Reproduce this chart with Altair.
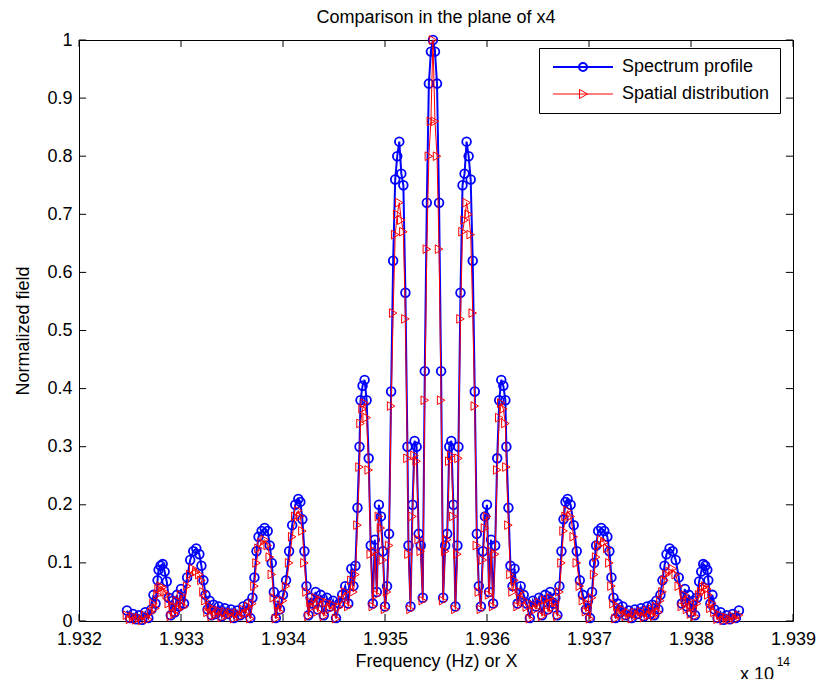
import altair as alt
import pandas as pd

series_names = ["Spectrum profile", "Spatial distribution"]
series_colors = ["#0000FF", "#FF0000"]

# frequencies in GHz (left half incl. centre, right half)
freq_left_ghz = [193247, 193250, 193253, 193256, 193259, 193262, 193265, 193268, 193271, 193273,
                 193275, 193277, 193278, 193280, 193282, 193284, 193286, 193288, 193290, 193292,
                 193294, 193296, 193298, 193300, 193303, 193306, 193309, 193312, 193315, 193318,
                 193320, 193322, 193324, 193326, 193328, 193330, 193332, 193334, 193337, 193340,
                 193343, 193346, 193349, 193352, 193355, 193358, 193361, 193363, 193366, 193368,
                 193370, 193372, 193374, 193376, 193379, 193382, 193385, 193387, 193389, 193391,
                 193393, 193395, 193397, 193400, 193403, 193406, 193409, 193412, 193415, 193417,
                 193419, 193421, 193423, 193425, 193427, 193429, 193432, 193434, 193437, 193440,
                 193443, 193446, 193449, 193452, 193455, 193458, 193461, 193464, 193467, 193469,
                 193471, 193473, 193475, 193476, 193478, 193480, 193482, 193484, 193486, 193488,
                 193490, 193492, 193494, 193496, 193498, 193500, 193502, 193504, 193506, 193508,
                 193510, 193512, 193514, 193516, 193518, 193520, 193522, 193523, 193525, 193527,
                 193529, 193531, 193533, 193535, 193537, 193539, 193541, 193543, 193545, 193547]
freq_right_ghz = [193549, 193551, 193553, 193555, 193557, 193559, 193561, 193563, 193565, 193567,
                  193569, 193571, 193572, 193574, 193576, 193578, 193580, 193582, 193584, 193586,
                  193588, 193590, 193592, 193594, 193596, 193598, 193600, 193602, 193604, 193606,
                  193608, 193610, 193612, 193614, 193616, 193618, 193619, 193621, 193623, 193625,
                  193627, 193630, 193633, 193636, 193639, 193642, 193645, 193648, 193651, 193654,
                  193657, 193660, 193662, 193665, 193667, 193669, 193671, 193673, 193675, 193677,
                  193679, 193682, 193685, 193688, 193691, 193694, 193697, 193699, 193701, 193703,
                  193705, 193707, 193709, 193712, 193715, 193718, 193720, 193722, 193724, 193726,
                  193728, 193731, 193733, 193736, 193739, 193742, 193745, 193748, 193751, 193754,
                  193757, 193760, 193762, 193764, 193766, 193768, 193770, 193772, 193774, 193776,
                  193779, 193782, 193785, 193788, 193791, 193794, 193796, 193798, 193800, 193802,
                  193804, 193806, 193808, 193810, 193812, 193814, 193816, 193817, 193819, 193821,
                  193823, 193826, 193829, 193832, 193835, 193838, 193841, 193844, 193847]

spectrum_left = [0.018, 0.005, 0.012, 0.003, 0.010, 0.002, 0.015, 0.005, 0.020, 0.045,
                 0.030, 0.070, 0.088, 0.095, 0.098, 0.085, 0.068, 0.040, 0.010, 0.035,
                 0.015, 0.045, 0.025, 0.055, 0.030, 0.075, 0.105, 0.120, 0.125, 0.115,
                 0.095, 0.070, 0.045, 0.020, 0.035, 0.010, 0.028, 0.012, 0.025, 0.008,
                 0.022, 0.012, 0.020, 0.005, 0.018, 0.010, 0.025, 0.015, 0.030, 0.005,
                 0.040, 0.075, 0.120, 0.145, 0.155, 0.160, 0.155, 0.130, 0.100, 0.050,
                 0.005, 0.035, 0.020, 0.045, 0.070, 0.120, 0.165, 0.200, 0.210, 0.205,
                 0.175, 0.120, 0.060, 0.010, 0.040, 0.030, 0.050, 0.020, 0.045, 0.010,
                 0.040, 0.025, 0.035, 0.005, 0.030, 0.045, 0.060, 0.030, 0.090, 0.060,
                 0.095, 0.195, 0.300, 0.380, 0.405, 0.415, 0.380, 0.280, 0.130, 0.030,
                 0.140, 0.050, 0.200, 0.180, 0.120, 0.025, 0.060, 0.150, 0.395, 0.620,
                 0.760, 0.800, 0.825, 0.770, 0.750, 0.565, 0.300, 0.130, 0.025, 0.200,
                 0.310, 0.300, 0.150, 0.130, 0.040, 0.430, 0.720, 0.925, 0.980, 1.000]
spectrum_right = [0.980, 0.925, 0.720, 0.430, 0.040, 0.130, 0.150, 0.300, 0.310, 0.200,
                  0.025, 0.130, 0.300, 0.565, 0.750, 0.770, 0.825, 0.800, 0.760, 0.620,
                  0.395, 0.150, 0.060, 0.025, 0.120, 0.180, 0.200, 0.050, 0.140, 0.030,
                  0.130, 0.280, 0.380, 0.415, 0.405, 0.380, 0.300, 0.195, 0.095, 0.060,
                  0.090, 0.030, 0.060, 0.045, 0.030, 0.005, 0.035, 0.025, 0.040, 0.010,
                  0.045, 0.020, 0.050, 0.030, 0.040, 0.010, 0.060, 0.120, 0.175, 0.205,
                  0.210, 0.200, 0.165, 0.120, 0.070, 0.045, 0.020, 0.035, 0.005, 0.050,
                  0.100, 0.130, 0.155, 0.160, 0.155, 0.145, 0.120, 0.075, 0.040, 0.005,
                  0.030, 0.015, 0.025, 0.010, 0.018, 0.005, 0.020, 0.012, 0.022, 0.008,
                  0.025, 0.012, 0.028, 0.010, 0.035, 0.020, 0.045, 0.070, 0.095, 0.115,
                  0.125, 0.120, 0.105, 0.075, 0.030, 0.055, 0.025, 0.045, 0.015, 0.035,
                  0.010, 0.040, 0.068, 0.085, 0.098, 0.095, 0.088, 0.070, 0.030, 0.045,
                  0.020, 0.005, 0.015, 0.002, 0.010, 0.003, 0.012, 0.005, 0.018]

spatial_left = [0.010, 0.003, 0.008, 0.002, 0.006, 0.001, 0.010, 0.003, 0.015, 0.030,
                0.022, 0.045, 0.055, 0.060, 0.058, 0.050, 0.045, 0.030, 0.008, 0.025,
                0.012, 0.035, 0.020, 0.045, 0.025, 0.060, 0.080, 0.090, 0.085, 0.080,
                0.070, 0.050, 0.035, 0.015, 0.025, 0.008, 0.020, 0.010, 0.018, 0.006,
                0.016, 0.010, 0.015, 0.004, 0.014, 0.008, 0.020, 0.012, 0.025, 0.004,
                0.030, 0.060, 0.100, 0.125, 0.135, 0.140, 0.130, 0.110, 0.080, 0.040,
                0.004, 0.028, 0.016, 0.035, 0.060, 0.100, 0.145, 0.180, 0.190, 0.180,
                0.155, 0.100, 0.050, 0.008, 0.032, 0.024, 0.040, 0.016, 0.036, 0.008,
                0.032, 0.020, 0.028, 0.004, 0.024, 0.036, 0.050, 0.025, 0.070, 0.050,
                0.080, 0.165, 0.265, 0.340, 0.365, 0.375, 0.350, 0.260, 0.115, 0.025,
                0.120, 0.045, 0.180, 0.160, 0.105, 0.020, 0.050, 0.130, 0.370, 0.530,
                0.665, 0.700, 0.720, 0.690, 0.670, 0.520, 0.280, 0.115, 0.020, 0.180,
                0.285, 0.275, 0.140, 0.120, 0.035, 0.380, 0.640, 0.800, 0.860, 1.000]
spatial_right = [0.860, 0.800, 0.640, 0.380, 0.035, 0.120, 0.140, 0.275, 0.285, 0.180,
                 0.020, 0.115, 0.280, 0.520, 0.670, 0.690, 0.720, 0.700, 0.665, 0.530,
                 0.370, 0.130, 0.050, 0.020, 0.105, 0.160, 0.180, 0.045, 0.120, 0.025,
                 0.115, 0.260, 0.350, 0.375, 0.365, 0.340, 0.265, 0.165, 0.080, 0.050,
                 0.070, 0.025, 0.050, 0.036, 0.024, 0.004, 0.028, 0.020, 0.032, 0.008,
                 0.036, 0.016, 0.040, 0.024, 0.032, 0.008, 0.050, 0.100, 0.155, 0.180,
                 0.190, 0.180, 0.145, 0.100, 0.060, 0.035, 0.016, 0.028, 0.004, 0.040,
                 0.080, 0.110, 0.130, 0.140, 0.135, 0.125, 0.100, 0.060, 0.030, 0.004,
                 0.025, 0.012, 0.020, 0.008, 0.014, 0.004, 0.015, 0.010, 0.016, 0.006,
                 0.018, 0.010, 0.020, 0.008, 0.025, 0.015, 0.035, 0.050, 0.070, 0.080,
                 0.085, 0.090, 0.080, 0.060, 0.025, 0.045, 0.020, 0.035, 0.012, 0.025,
                 0.008, 0.030, 0.045, 0.050, 0.058, 0.060, 0.055, 0.045, 0.022, 0.030,
                 0.015, 0.003, 0.010, 0.001, 0.006, 0.002, 0.008, 0.003, 0.010]

x_ticks = [1.932, 1.933, 1.934, 1.935, 1.936, 1.937, 1.938, 1.939]
y_ticks = [0.0, 0.1, 0.2, 0.3, 0.4, 0.5, 0.6, 0.7, 0.8, 0.9, 1.0]

# ---- build tables ----
freq = freq_left_ghz + freq_right_ghz
x_vals = [f / 1e5 for f in freq]  # GHz -> units of 1e14 Hz
df_b = pd.DataFrame({"x": x_vals, "y": spectrum_left + spectrum_right})
df_r = pd.DataFrame({"x": x_vals, "y": spatial_left + spatial_right})

FONT = "Liberation Sans"
FS = 18
TICK_Y = 0.012     # inward tick length in y data units
TICK_X = 0.00007   # inward tick length in x data units

xscale = alt.Scale(domain=[1.932, 1.939], nice=False, zero=False)
yscale = alt.Scale(domain=[0, 1], nice=False, zero=False)

x_axis = alt.Axis(values=x_ticks, format=".3f", ticks=False, tickSize=0, domain=False, grid=False,
                  labelFont=FONT, labelFontSize=FS, labelColor="black", labelPadding=9,
                  labelFlush=False, labelOverlap=False,
                  title="Frequency (Hz) or X", titleFont=FONT, titleFontSize=FS,
                  titleFontWeight="normal", titleColor="black", titlePadding=4)
y_axis = alt.Axis(values=y_ticks, format=".1~f", ticks=False, tickSize=0, domain=False, grid=False,
                  labelFont=FONT, labelFontSize=FS, labelColor="black", labelPadding=7,
                  labelFlush=False, labelOverlap=False,
                  title="Normalized field", titleFont=FONT, titleFontSize=FS,
                  titleFontWeight="normal", titleColor="black", titlePadding=14)

X = alt.X("x:Q", scale=xscale, axis=x_axis)
Y = alt.Y("y:Q", scale=yscale, axis=y_axis)

# inward tick marks (MATLAB style)
xt = pd.DataFrame({"x": x_ticks})
yt = pd.DataFrame({"y": y_ticks})
rule_bottom = alt.Chart(xt).mark_rule(color="black", strokeWidth=1).transform_calculate(
    y="0", y2=f"{TICK_Y}").encode(x=X, y=Y, y2="y2:Q")
rule_top = alt.Chart(xt).mark_rule(color="black", strokeWidth=1).transform_calculate(
    y="1", y2=f"{1 - TICK_Y}").encode(x=X, y=Y, y2="y2:Q")
rule_left = alt.Chart(yt).mark_rule(color="black", strokeWidth=1).transform_calculate(
    x="1.932", x2=f"{1.932 + TICK_X}").encode(x=X, x2="x2:Q", y=Y)
rule_right = alt.Chart(yt).mark_rule(color="black", strokeWidth=1).transform_calculate(
    x="1.939", x2=f"{1.939 - TICK_X}").encode(x=X, x2="x2:Q", y=Y)

line_b = alt.Chart(df_b).mark_line(color=series_colors[0], strokeWidth=2).encode(x=X, y=Y)
pts_b = alt.Chart(df_b).mark_point(shape="circle", color=series_colors[0], filled=False,
                                   size=75, strokeWidth=1.8, opacity=1).encode(x=X, y=Y)
line_r = alt.Chart(df_r).mark_line(color=series_colors[1], strokeWidth=1).encode(x=X, y=Y)
pts_r = alt.Chart(df_r).mark_point(shape="triangle-right", color=series_colors[1], filled=False,
                                   size=75, strokeWidth=1, opacity=1).encode(x=X, y=Y)

# legend (symbols: line with marker)
path_circle = "M-1,0H11M5.8,0A0.8,0.8,0,1,1,4.2,0A0.8,0.8,0,1,1,5.8,0"
path_tri = "M-1,0H11M4.3,-0.9L5.9,0L4.3,0.9Z"
leg = alt.Legend(orient="none", legendX=460, legendY=8, title=None,
                 strokeColor="black", fillColor="white", padding=10, cornerRadius=0,
                 labelFont=FONT, labelFontSize=FS, labelColor="black", labelLimit=400,
                 symbolSize=100, labelOffset=55, rowPadding=9)
leg_df = pd.DataFrame({"series": series_names})
legend_layer = alt.Chart(leg_df).mark_point(filled=False, opacity=1, size=100).encode(
    color=alt.Color("series:N", scale=alt.Scale(domain=series_names, range=series_colors), legend=leg),
    shape=alt.Shape("series:N", scale=alt.Scale(domain=series_names, range=[path_circle, path_tri]), legend=leg),
    strokeWidth=alt.StrokeWidth("series:N", scale=alt.Scale(domain=series_names, range=[2, 1]), legend=leg),
).transform_filter("datum.series == 'none'")

# axis exponent annotation
exp_df = pd.DataFrame({"t": ["x 10"]})
sup_df = pd.DataFrame({"t": ["14"]})
txt_exp = alt.Chart(exp_df).mark_text(align="left", baseline="alphabetic", font=FONT,
                                      fontSize=FS, color="black").encode(
    x=alt.datum(1.93848), y=alt.datum(-0.1015), text="t:N")
txt_sup = alt.Chart(sup_df).mark_text(align="left", baseline="alphabetic", font=FONT,
                                      fontSize=12, color="black").encode(
    x=alt.datum(1.93884), y=alt.datum(-0.0775), text="t:N")

chart = alt.layer(
    rule_bottom, rule_top, rule_left, rule_right,
    line_b, pts_b, line_r, pts_r, legend_layer, txt_exp, txt_sup
).properties(
    width=714, height=581,
    title=alt.TitleParams(text="Comparison in the plane of x4", font=FONT, fontSize=FS,
                          fontWeight="normal", color="black", anchor="middle",
                          baseline="alphabetic", offset=0, dy=10),
    autosize=alt.AutoSizeParams(type="none"),
    padding={"left": 79, "top": 40, "right": 24, "bottom": 58},
    background="white",
).configure_view(stroke="black", strokeWidth=1)

chart.save("out.html", embed_options={"renderer": "svg", "actions": False})
